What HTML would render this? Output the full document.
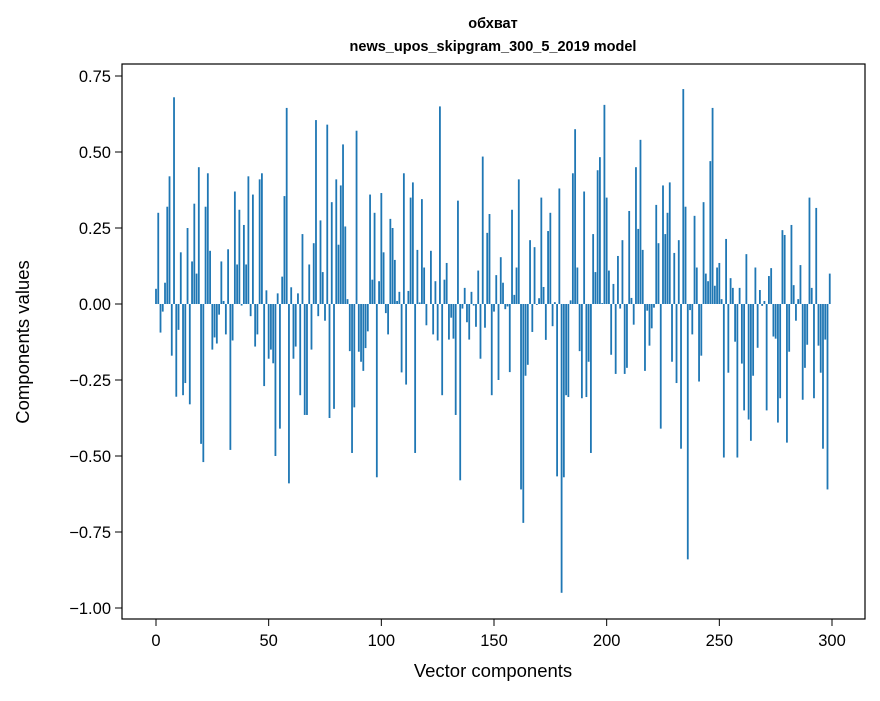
<!DOCTYPE html>
<html><head><meta charset="utf-8"><style>
body{margin:0;background:#fff;}
svg text{font-family:"Liberation Sans","DejaVu Sans",sans-serif;fill:#000;}
</style></head><body>
<svg id="chart" width="880" height="696" viewBox="0 0 880 696" xmlns="http://www.w3.org/2000/svg">
<rect width="880" height="696" fill="#fff"/>
<text x="493" y="28" text-anchor="middle" font-size="14.5" font-weight="bold">обхват</text>
<text x="493" y="51" text-anchor="middle" font-size="14.5" font-weight="bold">news_upos_skipgram_300_5_2019 model</text>
<g id="bars"></g>
<g id="xticks"></g>
<g id="yticks"></g>
<rect x="122" y="64" width="743" height="555" fill="none" stroke="#000" stroke-width="1.2"/>
<text x="493" y="677" text-anchor="middle" font-size="18.5">Vector components</text>
<text transform="translate(29,342) rotate(-90)" text-anchor="middle" font-size="18.5">Components values</text>
</svg>
<script>
const values = [
0.05,0.30,-0.094,-0.025,0.07,0.32,0.42,-0.17,0.68,-0.305,
-0.085,0.17,-0.30,-0.26,0.25,-0.33,0.14,0.33,0.10,0.45,
-0.46,-0.52,0.32,0.43,0.175,-0.15,-0.11,-0.13,-0.035,0.14,
0.01,-0.10,0.18,-0.48,-0.12,0.37,0.13,0.31,-0.005,0.26,
0.13,0.42,-0.04,0.36,-0.14,-0.10,0.41,0.43,-0.27,0.045,
-0.18,-0.15,-0.195,-0.50,0.035,-0.41,0.09,0.355,0.645,-0.59,
0.055,-0.18,-0.14,0.035,-0.30,0.23,-0.365,-0.365,0.13,-0.15,
0.20,0.605,-0.04,0.275,0.105,-0.055,0.59,-0.375,0.335,-0.345,
0.41,0.195,0.39,0.525,0.255,0.016,-0.155,-0.49,-0.34,0.57,
-0.157,-0.19,-0.22,-0.145,-0.09,0.36,0.08,0.30,-0.57,0.075,
0.365,0.17,-0.03,-0.10,0.28,0.25,0.145,0.01,0.04,-0.225,
0.43,-0.265,0.043,0.35,0.40,-0.49,0.178,0.005,0.345,0.12,
-0.07,0.0,0.175,-0.10,0.075,-0.12,0.65,-0.30,0.08,0.135,
-0.117,-0.045,-0.114,-0.365,0.34,-0.58,-0.015,0.053,-0.06,-0.117,
0.04,-0.005,-0.075,0.11,-0.18,0.485,-0.078,0.234,0.296,-0.30,
-0.025,0.095,-0.25,0.154,0.07,-0.017,-0.008,-0.224,0.31,0.03,
0.12,0.41,-0.61,-0.72,-0.236,-0.20,0.21,-0.092,0.187,-0.003,
0.019,0.35,0.056,-0.118,0.24,0.30,-0.073,0.006,-0.567,0.38,
-0.95,-0.57,-0.30,-0.306,0.012,0.43,0.575,0.12,-0.155,-0.31,
0.37,-0.306,-0.19,-0.49,0.23,0.105,0.44,0.483,0.003,0.655,
0.35,0.11,-0.167,0.066,-0.23,0.158,-0.015,0.21,-0.23,-0.21,
0.306,0.02,-0.068,0.45,0.247,0.54,0.178,-0.22,-0.022,-0.137,
-0.08,-0.012,0.326,0.20,-0.41,0.39,0.23,0.30,0.40,-0.19,
0.168,-0.26,0.21,-0.476,0.707,0.32,-0.84,-0.02,-0.10,0.29,
0.12,-0.255,-0.17,0.335,0.10,0.075,0.47,0.645,0.06,0.12,
0.135,0.016,-0.505,0.214,-0.226,0.085,0.053,-0.124,-0.505,0.053,
-0.196,-0.35,0.164,-0.38,-0.45,-0.236,0.12,-0.144,0.046,-0.006,
0.01,-0.35,0.092,0.118,-0.107,-0.114,-0.39,-0.31,0.243,0.227,
-0.456,-0.157,0.26,0.062,-0.055,0.016,0.128,-0.315,-0.21,-0.134,
0.35,0.053,-0.31,0.316,-0.137,-0.226,-0.476,-0.117,-0.61,0.10
];
const xTicks = [0,50,100,150,200,250,300];
const yTicks = [0.75,0.5,0.25,0,-0.25,-0.5,-0.75,-1.0];
const yTickLabels = ["0.75","0.50","0.25","0.00","\u22120.25","\u22120.50","\u22120.75","\u22121.00"];

const NS = "http://www.w3.org/2000/svg";
const X = v => 156 + (v) * (676/300);
const Y = v => 304 - v * 304;
const barW = 0.8 * 676/300;

const gb = document.getElementById('bars');
values.forEach((v, i) => {
  const r = document.createElementNS(NS, 'rect');
  const y0 = Y(Math.max(v, 0)), y1 = Y(Math.min(v, 0));
  r.setAttribute('x', X(i) - barW/2);
  r.setAttribute('y', y0);
  r.setAttribute('width', barW);
  r.setAttribute('height', Math.max(y1 - y0, 0));
  r.setAttribute('fill', '#1f77b4');
  
  
  gb.appendChild(r);
});

const gx = document.getElementById('xticks');
xTicks.forEach(t => {
  const l = document.createElementNS(NS, 'line');
  l.setAttribute('x1', X(t)); l.setAttribute('x2', X(t));
  l.setAttribute('y1', 619); l.setAttribute('y2', 626);
  l.setAttribute('stroke', '#000');
  
  
  gx.appendChild(l);
  const tx = document.createElementNS(NS, 'text');
  tx.setAttribute('x', X(t)); tx.setAttribute('y', 646);
  tx.setAttribute('text-anchor', 'middle'); tx.setAttribute('font-size', '16.5');
  tx.textContent = t;
  
  
  gx.appendChild(tx);
});

const gy = document.getElementById('yticks');
yTicks.forEach((t, k) => {
  const l = document.createElementNS(NS, 'line');
  l.setAttribute('x1', 115); l.setAttribute('x2', 122);
  l.setAttribute('y1', Y(t)); l.setAttribute('y2', Y(t));
  l.setAttribute('stroke', '#000');
  
  
  gy.appendChild(l);
  const tx = document.createElementNS(NS, 'text');
  tx.setAttribute('x', 111); tx.setAttribute('y', Y(t) + 6);
  tx.setAttribute('text-anchor', 'end'); tx.setAttribute('font-size', '16.5');
  tx.textContent = yTickLabels[k];
  
  
  gy.appendChild(tx);
});
</script>
</body></html>
